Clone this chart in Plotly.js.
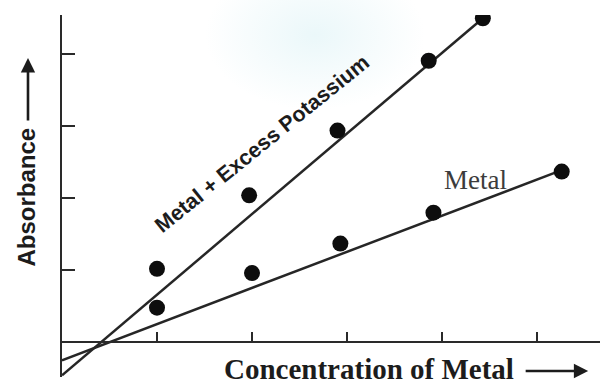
<!DOCTYPE html>
<html>
<head>
<meta charset="utf-8">
<script src="https://cdn.plot.ly/plotly-3.0.1.min.js"></script>
<style>
  html, body { margin: 0; padding: 0; }
  body {
    width: 606px; height: 389px;
    background: #fff radial-gradient(ellipse 110px 75px at 315px 35px,
                rgba(228, 245, 248, 0.75), rgba(255, 255, 255, 0) 100%);
  }
  #chart { width: 606px; height: 389px; }
</style>
</head>
<body>
<div id="chart"></div>
<script>
// Measured absorbance against metal concentration (arbitrary units)
const concWithPotassium = [1.0, 1.97, 2.9, 3.86, 4.43];
const absWithPotassium  = [1.01, 2.03, 2.93, 3.9, 4.49];
const concMetal = [1.0, 2.0, 2.93, 3.91, 5.26];
const absMetal  = [0.47, 0.95, 1.36, 1.79, 2.36];

// End points of the straight lines drawn through each series
const fitPotassiumX = [0, 4.43];
const fitPotassiumY = [-0.47, 4.49];
const fitMetalX = [0, 5.26];
const fitMetalY = [-0.26, 2.38];

// Unlabelled tick positions
const xTicks = [1, 2, 3, 4, 5];
const yTicks = [1, 2, 3, 4];

// Text
const xTitle = 'Concentration of Metal';
const yTitle = 'Absorbance';
const labelPotassium = 'Metal + Excess Potassium';
const labelMetal = 'Metal';

const ink = '#1c1c1c';
const lineStyle = { color: '#262626', width: 2.5 };
const markerStyle = { color: '#0d0d0d', size: 16 };

const xRange = [0, 5.663];
const yRange = [-0.493, 4.535];
// where y = 0 sits inside the plotting area (fraction of its height)
const xAxisPos = (0 - yRange[0]) / (yRange[1] - yRange[0]);

const traces = [
  { x: fitPotassiumX, y: fitPotassiumY, mode: 'lines', line: lineStyle, hoverinfo: 'skip' },
  { x: fitMetalX, y: fitMetalY, mode: 'lines', line: lineStyle, hoverinfo: 'skip' },
  { x: concWithPotassium, y: absWithPotassium, mode: 'markers', marker: markerStyle, name: labelPotassium },
  { x: concMetal, y: absMetal, mode: 'markers', marker: markerStyle, name: labelMetal }
];

const layout = {
  width: 606, height: 389,
  margin: { l: 62, r: 6, t: 15, b: 12, pad: 0 },
  paper_bgcolor: 'rgba(0,0,0,0)',
  plot_bgcolor: 'rgba(0,0,0,0)',
  showlegend: false,
  xaxis: {
    range: xRange, anchor: 'free', position: xAxisPos,
    showline: true, linecolor: '#2a2a2a', linewidth: 2.5,
    showgrid: false, zeroline: false, showticklabels: false,
    tickmode: 'array', tickvals: xTicks,
    ticks: 'inside', ticklen: 9, tickwidth: 2, tickcolor: '#2a2a2a'
  },
  yaxis: {
    range: yRange,
    showline: true, linecolor: '#2a2a2a', linewidth: 2.5,
    showgrid: false, zeroline: false, showticklabels: false,
    tickmode: 'array', tickvals: yTicks,
    ticks: 'inside', ticklen: 13, tickwidth: 2, tickcolor: '#2a2a2a'
  },
  annotations: [
    {
      xref: 'paper', yref: 'paper', x: 0.5706, y: 0.022,
      xanchor: 'center', yanchor: 'middle', showarrow: false,
      text: '<b>' + xTitle + '</b>',
      font: { family: 'Liberation Serif, Times New Roman, serif', size: 29, color: ink }
    },
    {
      // arrow after the x-axis title
      xref: 'paper', yref: 'paper', x: 0.978, y: 0.0166,
      ax: -64, ay: 0, text: '', showarrow: true,
      arrowhead: 2, arrowsize: 1.1, arrowwidth: 2.6, arrowcolor: ink,
      standoff: 0, startstandoff: 0
    },
    {
      xref: 'paper', yref: 'paper', x: -0.0669, y: 0.4959,
      xanchor: 'center', yanchor: 'middle', textangle: -90, showarrow: false,
      text: '<b>' + yTitle + '</b>',
      font: { family: 'Liberation Sans, Arial, sans-serif', size: 24, color: ink }
    },
    {
      // arrow above the y-axis title
      xref: 'paper', yref: 'paper', x: -0.0632, y: 0.881,
      ax: 0, ay: 64, text: '', showarrow: true,
      arrowhead: 2, arrowsize: 1.1, arrowwidth: 2.6, arrowcolor: ink,
      standoff: 0, startstandoff: 0
    },
    {
      xref: 'paper', yref: 'paper', x: 0.3717, y: 0.644,
      xanchor: 'center', yanchor: 'middle', textangle: -39, showarrow: false,
      text: '<b>' + labelPotassium + '</b>',
      font: { family: 'Liberation Sans, Arial, sans-serif', size: 21.5, color: ink }
    },
    {
      xref: 'paper', yref: 'paper', x: 0.7677, y: 0.544,
      xanchor: 'center', yanchor: 'middle', showarrow: false,
      text: labelMetal,
      font: { family: 'Liberation Serif, Times New Roman, serif', size: 27, color: '#3c3c3c' }
    }
  ]
};

Plotly.newPlot('chart', traces, layout, { staticPlot: true, displayModeBar: false });
</script>
</body>
</html>
